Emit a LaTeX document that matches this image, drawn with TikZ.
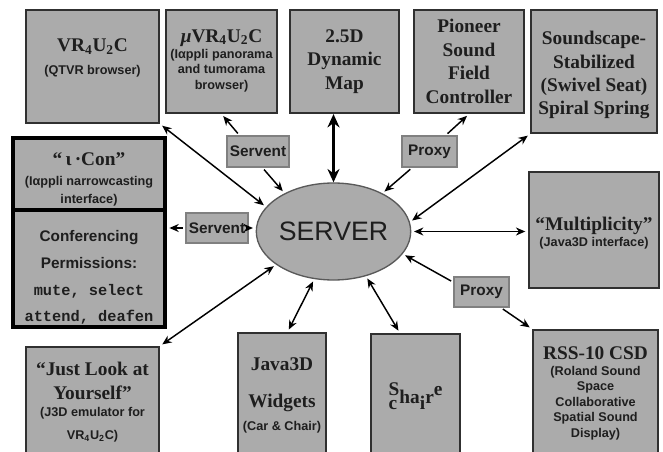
\documentclass[tikz,border=0pt]{standalone}
\usepackage{fontspec}
\setmainfont{Liberation Serif}
\setsansfont{Liberation Sans}
\setmonofont{Liberation Mono}
\usetikzlibrary{arrows.meta,shapes.geometric}
\definecolor{boxgray}{HTML}{ABABAB}
\definecolor{edgegray}{HTML}{303030}
\definecolor{inkgray}{HTML}{1E1E1E}
\newcommand{\titletxt}{\fontsize{14.5}{17.6}\selectfont\bfseries\rmfamily}
\newcommand{\subtxt}{\fontsize{9.5}{11.6}\selectfont\bfseries\sffamily}
\newcommand{\sublines}[1]{\subtxt\begin{tabular}[t]{@{}c@{}}#1\end{tabular}}
\newcommand{\vrname}{VR\textsubscript{4}U\textsubscript{2}C}
\begin{document}
\begin{tikzpicture}[x=0.75pt, y=-0.75pt, >={Stealth[length=7pt,width=6pt]},
    sz/.style 2 args={minimum width=#1*0.75pt, minimum height=#2*0.75pt},
    box/.style={draw=edgegray, line width=1.6pt, fill=boxgray, inner sep=0pt, align=center, text=inkgray, font=\titletxt},
    group/.style={box, draw=black, line width=2.6pt},
    tag/.style={draw=gray, line width=0.8pt, fill=boxgray, inner sep=0pt, text=inkgray,
        font=\fontsize{11.5}{13}\selectfont\bfseries\sffamily},
    arr/.style={line width=1.1pt, shorten >=2pt, shorten <=2pt},
    bigarr/.style={line width=2.2pt, {Stealth[length=10pt,width=9pt]}-{Stealth[length=10pt,width=9pt]}}]
    \useasboundingbox (0,0) rectangle (663,452);

    \node[box, sz={133}{113}] (vr) at (92.5,66.5) {\vrname\\\subtxt (QTVR browser)\\[-3pt]\mbox{}};
    \node[box, sz={111}{103}] (mu) at (221.5,61.5) {\textit{μ}\vrname\\[-5.5pt]\sublines{(Iαppli panorama\\and tumorama\\browser)}};
    \node[box, sz={109}{103}] (dyn) at (344.5,61.5) {2.5D\\Dynamic\\Map};
    \node[box, sz={110}{103}] (pio) at (469,61.5) {Pioneer\\Sound\\Field\\Controller};
    \node[box, sz={126}{123}] (ss) at (594,71.5) {\mbox{}\\[-2pt]Soundscape-\\Stabilized\\(Swivel Seat)\\Spiral Spring};

    \node[group, sz={152}{72}] (icon) at (89,174) {\mbox{}\\[1pt]“\,ι\,·Con”\\[-2.6pt]\sublines{(Iαppli narrowcasting\\[2pt]interface)}};
    \node[group, sz={152}{117}, font=\fontsize{11.5}{20}\selectfont\bfseries\sffamily] (conf) at (89,268.5)
        {\mbox{}\\[2pt]Conferencing\\Permissions:\\\ttfamily mute, select\\\ttfamily attend, deafen};
    \node[box, sz={130}{116}] (mult) at (594,230) {\mbox{}\\[-2.6pt]“Multiplicity”\\[-5.6pt]\subtxt (Java3D interface)};

    \node[box, sz={133}{111}] (jl) at (92.5,402.5) {“Just Look at\\Yourself”\\[-4.8pt]\subtxt (J3D emulator for\\\subtxt VR\textsubscript{4}U\textsubscript{2}C)};
    \node[box, sz={88}{125}] (jw) at (282,395.5) {Java3D\\[10pt]Widgets\\\subtxt (Car \& Chair)};
    \node[box, sz={89}{124}] (sh) at (415.5,396) {\rlap{\raisebox{.4em}{S}}\raisebox{-.3em}{c}\kern.12em ha\raisebox{-.3em}{i}r\raisebox{.4em}{e}};
    \node[box, sz={125}{128}] (rss) at (595.5,394) {RSS-10 CSD\\[-5.6pt]\sublines{(Roland Sound\\Space\\Collaborative\\Spatial Sound\\Display)}};

    \node[ellipse, draw=edgegray!80, line width=1pt, fill=boxgray, inner sep=0pt, sz={147}{97}, text=inkgray,
        font=\fontsize{20}{24}\selectfont\sffamily] (server) at (333.5,231.5) {SERVER};

    \node[tag, sz={62}{31}] (sv1) at (258,151.5) {Servent};
    \node[tag, sz={62}{30}] (sv2) at (217,228) {Servent};
    \node[tag, sz={55}{31}] (px1) at (429.5,151.5) {Proxy};
    \node[tag, sz={55}{30}] (px2) at (481.5,292) {Proxy};

    \draw[arr, <->] (vr.south east) -- (server.160);
    \draw[arr, ->] (sv1.139) -- (mu.south);
    \draw[arr, ->] (sv1.-75) -- (server.142);
    \draw[bigarr] (server.north) -- (server.north |- dyn.south);
    \draw[arr, ->] (px1.45) -- (pio.south);
    \draw[arr, ->] (px1.223) -- (server.38);
    \draw[arr, <->] (ss.south west) -- (server.7);
    \draw[arr, <->] (server.east) -- (mult.west |- server.east);
    \draw[arr, ->] (px2.161) -- (server.-18);
    \draw[arr, ->] (px2.-39) -- (rss.north west);
    \draw[arr, <->] (server.-54) -- (sh.104);
    \draw[arr, <->] (server.248) -- (jw.85);
    \draw[arr, <->] (server.210) -- (jl.north east);
    \draw[arr, ->] (sv2.west) -- (sv2.west -| conf.east);
    \draw[arr, ->] (sv2.east) -- (sv2.east -| server.west);
\end{tikzpicture}
\end{document}
